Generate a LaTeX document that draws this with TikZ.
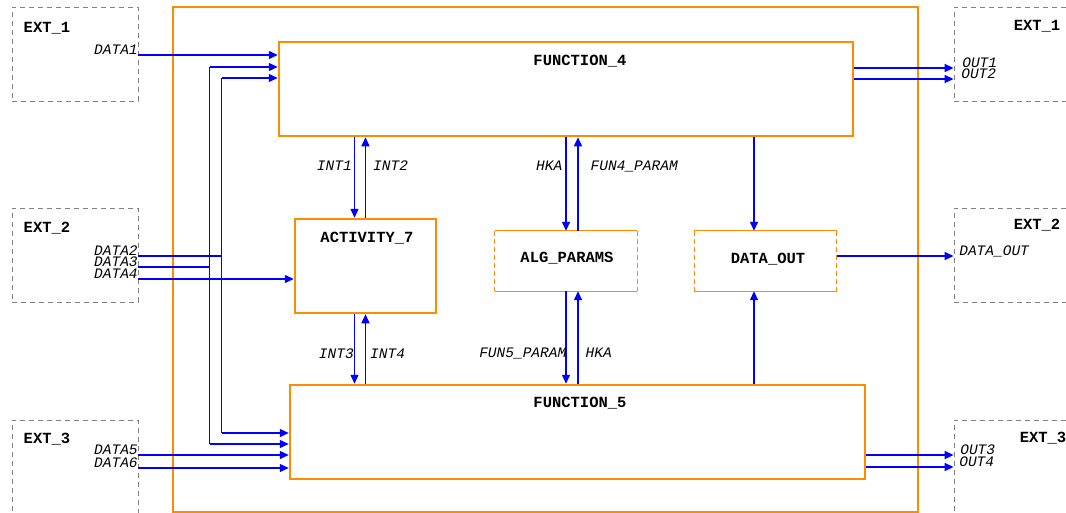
\documentclass[tikz,border=0pt]{standalone}
\usepackage{fontspec}
\setmonofont{Liberation Mono}
\usetikzlibrary{arrows.meta,positioning}
\definecolor{boxorange}{RGB}{255,140,0}
\definecolor{flowblue}{RGB}{0,0,255}
\definecolor{extgray}{RGB}{128,128,128}

\begin{document}
\begin{tikzpicture}[x=1pt,y=-1pt,
    every node/.style={inner sep=0pt},
    mainbox/.style={draw=boxorange,line width=2.5pt,minimum height=94pt},
    parbox/.style={minimum width=142pt,minimum height=60pt},
    extbox/.style={draw=extgray,dash pattern=on 5pt off 4pt,line width=0.8pt,minimum width=126pt,minimum height=94pt},
    title/.style={font=\fontsize{15.5}{16}\selectfont\ttfamily\bfseries,text depth=0pt},
    lbl/.style={font=\fontsize{14.5}{15}\selectfont\ttfamily\itshape,text depth=0pt,text=black},
    wire/.style={color=flowblue,line width=1.4pt},
    flow/.style={wire,-{Triangle[length=9pt,width=8pt]}}]
    \useasboundingbox (0,0) rectangle (1066,512);
    \clip (0,0) rectangle (1066,512);

    % external boxes
    \node[extbox] (ext1l) at (75,54) {};
    \node[extbox] (ext2l) at (75,255) {};
    \node[extbox] (ext3l) at (75,467) {};
    \node[extbox] (ext1r) at (1017,54) {};
    \node[extbox] (ext2r) at (1017,255) {};
    \node[extbox] (ext3r) at (1017,467) {};
    \node[title] (ext1lname) at (47,27) {EXT\_1};
    \node[title] (ext2lname) at (47,227) {EXT\_2};
    \node[title] (ext3lname) at (47,438) {EXT\_3};
    \node[title] (ext1rname) at (1037,25) {EXT\_1};
    \node[title] (ext2rname) at (1037,224) {EXT\_2};
    \node[title] (ext3rname) at (1043,437) {EXT\_3};

    % system and its parts
    \node[draw=boxorange,line width=2.5pt,minimum width=745pt,minimum height=505pt] (sys) at (545.5,259.5) {};
    \node[mainbox,minimum width=574pt] (fun4) at (566,89) {};
    \node[mainbox,minimum width=141pt] (act7) at (365.5,266) {};
    \node[parbox] (alg) at (566,261) {};
    \node[parbox] (dout) at (765.5,261) {};
    \node[mainbox,minimum width=575pt] (fun5) at (577.5,432) {};
    \foreach \n in {alg,dout} {
        \draw[boxorange,line width=0.9pt] (\n.north west) -- (\n.north east) (\n.south west) -- (\n.south east);
        \draw[boxorange,line width=0.9pt,dash pattern=on 5pt off 3pt] (\n.north west) -- (\n.south west) (\n.north east) -- (\n.south east);
    }
    \node[title] (fun4name) at (580,60) {FUNCTION\_4};
    \node[title] (act7name) at (367,237) {ACTIVITY\_7};
    \node[title] (algname) at (567,257) {ALG\_PARAMS};
    \node[title] (doutname) at (768,258) {DATA\_OUT};
    \node[title] (fun5name) at (580,402) {FUNCTION\_5};

    % inputs
    \coordinate (in4a) at ([yshift=22]fun4.west);
    \coordinate (in4b) at ([yshift=11]fun4.west);
    \coordinate (in5a) at ([yshift=-1]fun5.west);
    \coordinate (in5b) at ([yshift=-12]fun5.west);
    \draw[flow] ([yshift=-1]ext1l.east) node[lbl,anchor=base east,yshift=1]{DATA1} -- ([yshift=-1]ext1l.east -| fun4.west);
    \draw[wire] ([yshift=-1]ext2l.east) node[lbl,anchor=base east,yshift=1]{DATA2} -- ++(83.1,0) coordinate (bus2);
    \draw[wire] ([yshift=-12]ext2l.east) node[lbl,anchor=base east,yshift=1]{DATA3} -- ++(71.1,0) coordinate (bus3);
    \draw[wire] (bus2 |- in4b) -- (bus2 |- in5a);
    \draw[wire] (bus3 |- in4a) -- (bus3 |- in5b);
    \draw[flow] (bus2 |- in4b) -- (in4b);
    \draw[flow] (bus2 |- in5a) -- (in5a);
    \draw[flow] (bus3 |- in4a) -- (in4a);
    \draw[flow] (bus3 |- in5b) -- (in5b);
    \draw[flow] ([yshift=-24]ext2l.east) node[lbl,anchor=base east,yshift=1]{DATA4} -- ([yshift=-24]ext2l.east -| act7.west);
    \draw[flow] ([yshift=12]ext3l.east) node[lbl,anchor=base east,yshift=1]{DATA5} -- ([yshift=12]ext3l.east -| fun5.west);
    \draw[flow] ([yshift=-1]ext3l.east) node[lbl,anchor=base east,yshift=1]{DATA6} -- ([yshift=-1]ext3l.east -| fun5.west);

    % outputs
    \draw[flow] ([yshift=-14]ext1r.west -| fun4.east) -- ([yshift=-14]ext1r.west) node[lbl,anchor=base west,xshift=8,yshift=1]{OUT1};
    \draw[flow] ([yshift=-25]ext1r.west -| fun4.east) -- ([yshift=-25]ext1r.west) node[lbl,anchor=base west,xshift=7,yshift=1]{OUT2};
    \draw[flow] ([yshift=-1]ext2r.west -| dout.east) -- ([yshift=-1]ext2r.west) node[lbl,anchor=base west,xshift=5,yshift=1]{DATA\_OUT};
    \draw[flow] ([yshift=12]ext3r.west -| fun5.east) -- ([yshift=12]ext3r.west) node[lbl,anchor=base west,xshift=6,yshift=1]{OUT3};
    \draw[flow] (ext3r.west -| fun5.east) -- (ext3r.west) node[lbl,anchor=base west,xshift=5,yshift=1]{OUT4};

    % internal flows
    \draw[flow] ([xshift=-11]act7.north |- fun4.south) -- ([xshift=-11]act7.north) node[lbl,pos=0.35,anchor=east,xshift=-2]{INT1};
    \draw[flow] (act7.north) -- (act7.north |- fun4.south) node[lbl,pos=0.65,anchor=west,xshift=7]{INT2};
    \draw[flow] (alg.north |- fun4.south) -- (alg.north) node[lbl,pos=0.3,anchor=east,xshift=-3]{HKA};
    \draw[flow] ([xshift=12]alg.north) -- ([xshift=12]alg.north |- fun4.south) node[lbl,pos=0.7,anchor=west,xshift=12]{FUN4\_PARAM};
    \draw[flow] ([xshift=-11]act7.south) -- ([xshift=-11]act7.south |- fun5.north) node[lbl,pos=0.57,anchor=east]{INT3};
    \draw[flow] (act7.south |- fun5.north) -- (act7.south) node[lbl,pos=0.43,anchor=west,xshift=4]{INT4};
    \draw[flow] (alg.south) -- (alg.south |- fun5.north) node[lbl,pos=0.67,anchor=east,xshift=1]{FUN5\_PARAM};
    \draw[flow] ([xshift=12]alg.south |- fun5.north) -- ([xshift=12]alg.south) node[lbl,pos=0.33,anchor=west,xshift=7]{HKA};
    \draw[flow] ([xshift=-11.5]dout.north |- fun4.south) -- ([xshift=-11.5]dout.north);
    \draw[flow] ([xshift=-11.5]dout.south |- fun5.north) -- ([xshift=-11.5]dout.south);
\end{tikzpicture}
\end{document}
